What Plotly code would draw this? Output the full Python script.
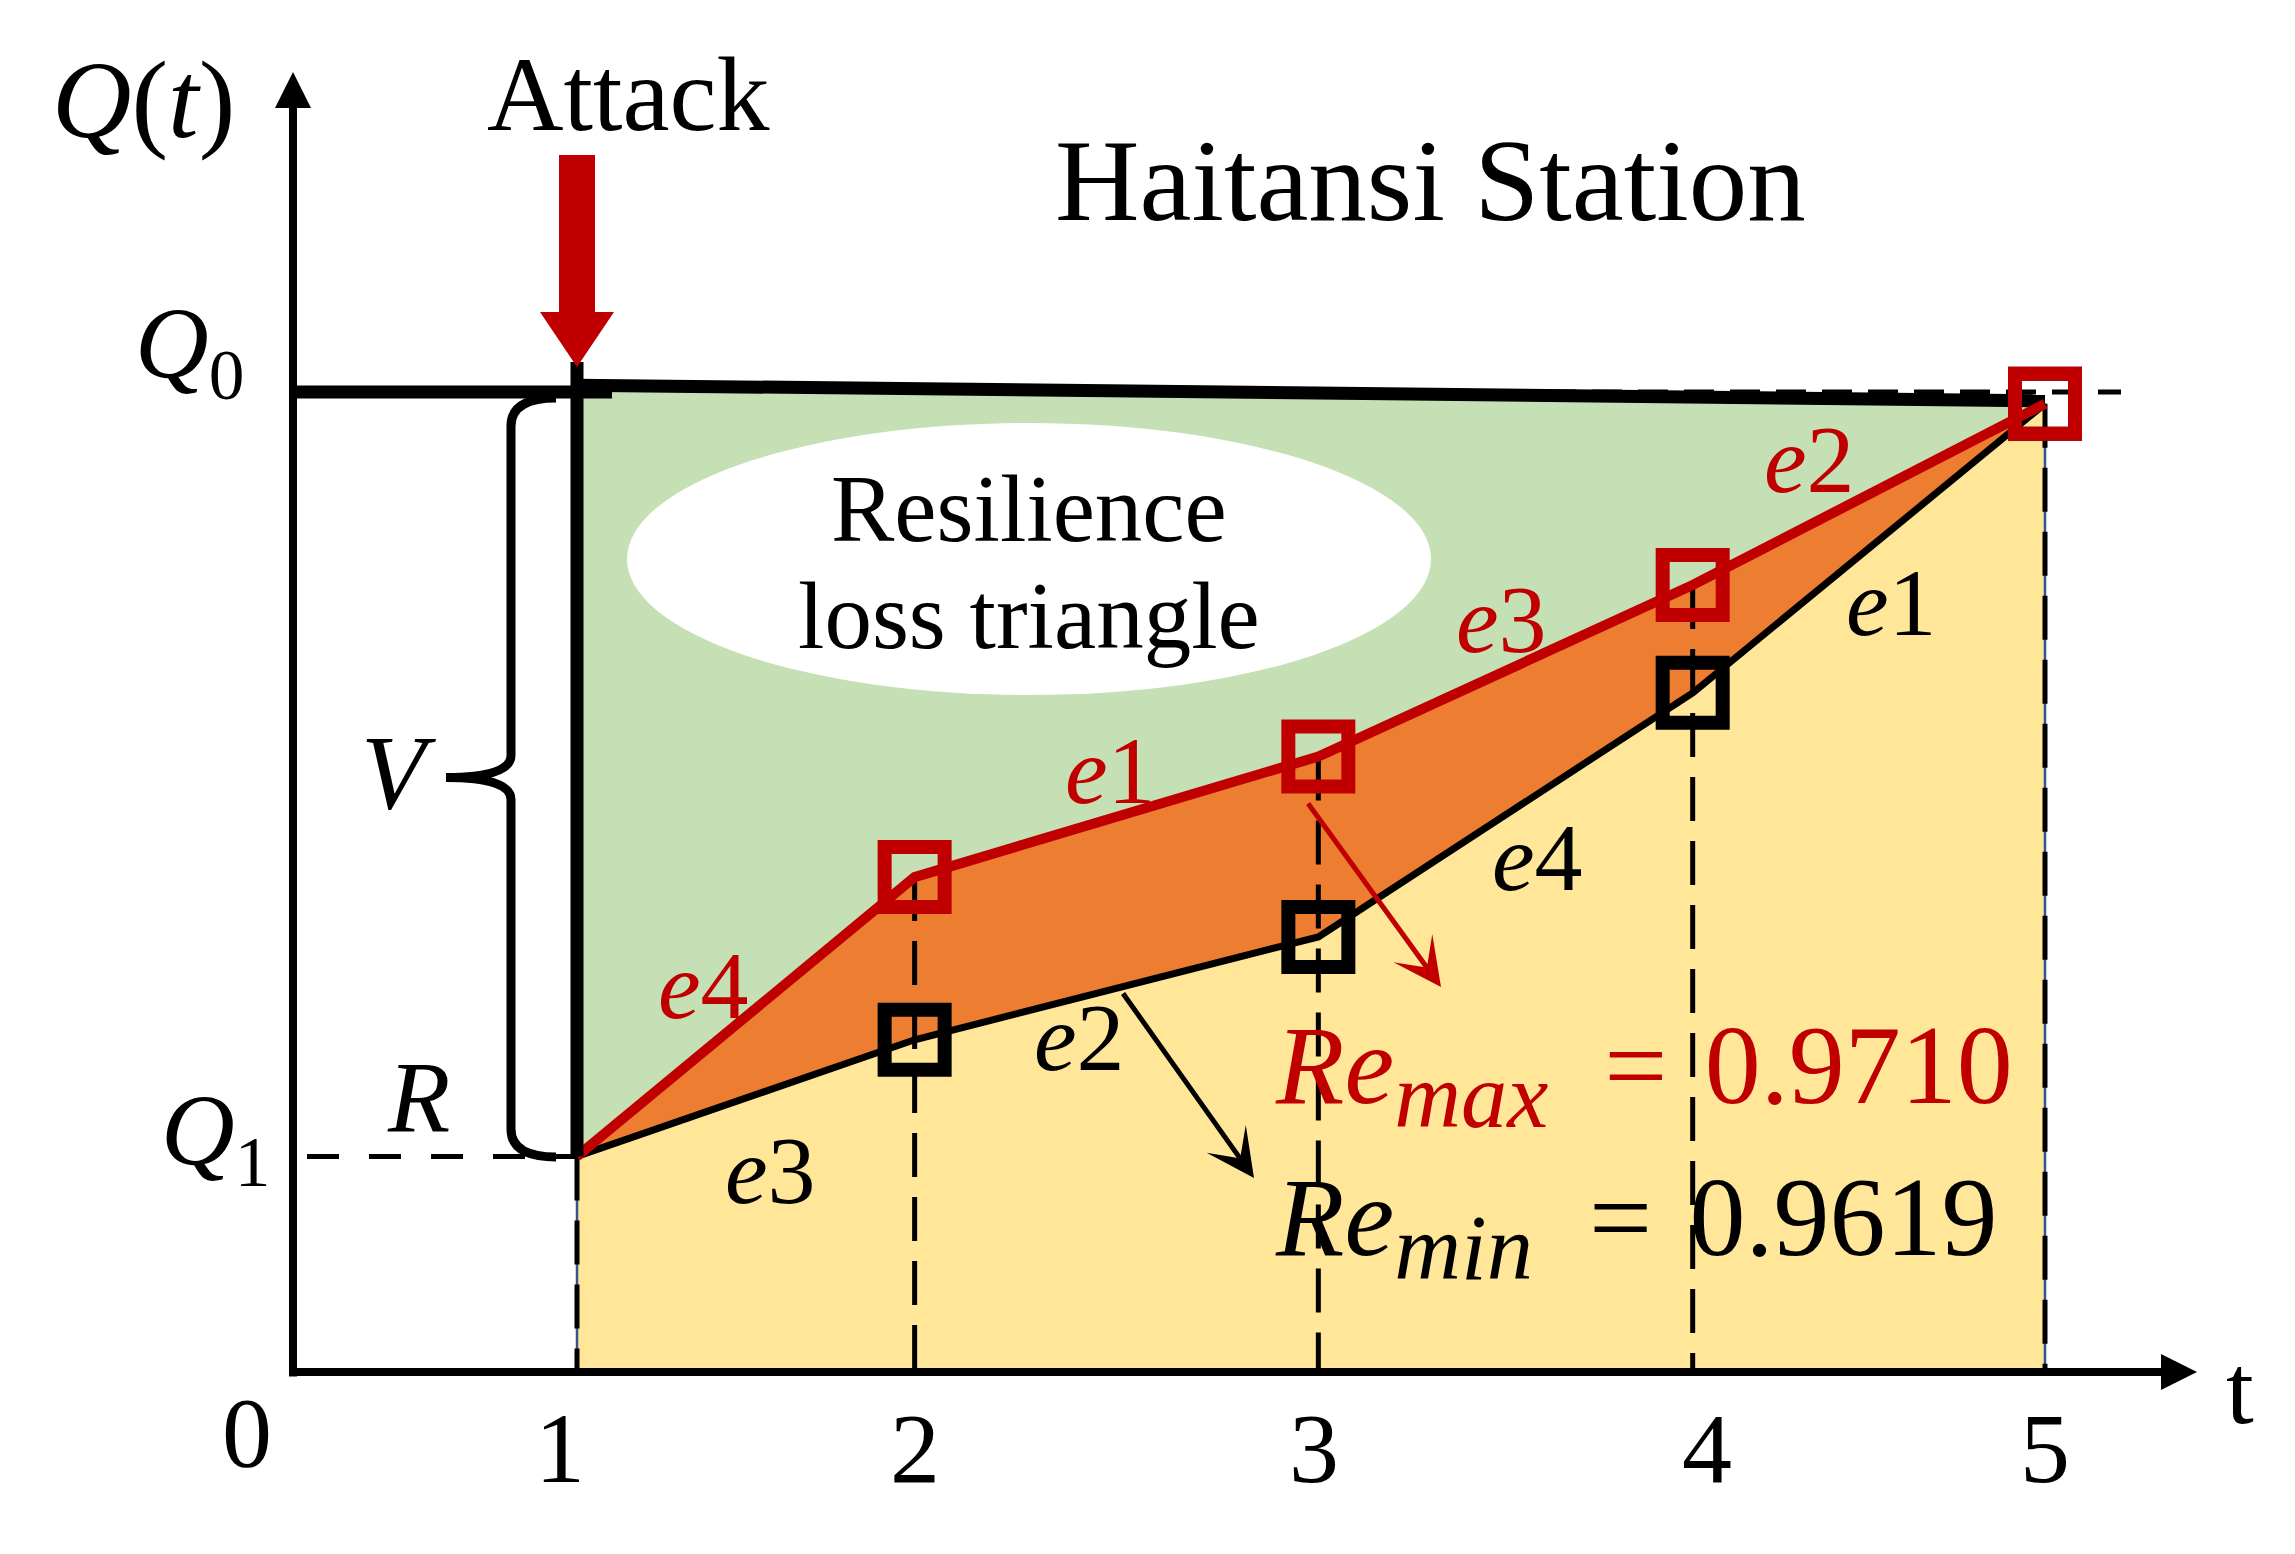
import plotly.graph_objects as go

W, H = 2295, 1554

# ---------------- data ----------------
t_pos = [1, 1.92, 3.02, 4.04, 5]            # recovery stages (x positions)
tick_text = ["1", "2", "3", "4", "5"]
q_max = [0.22, 0.505, 0.628, 0.803, 0.988]   # Re_max recovery path (red)
q_min = [0.22, 0.339, 0.444, 0.693, 0.988]   # Re_min recovery path (black)
Q0 = 1.0
Q1 = 0.22
top_line_q = [1.007, 0.991]                  # drawn performance line after attack
labels_max = ["4", "1", "3", "2"]            # e-index per red segment
labels_min = ["3", "2", "4", "1"]            # e-index per black segment
Re_max = 0.9710
Re_min = 0.9619

# ---------------- pixel calibration of the axes ----------------
PX_T1, PX_PER_T = 577.0, 367.0
PX_Q0, PX_AXIS = 392.0, 1372.0
PX_PER_Q = PX_AXIS - PX_Q0
x_range = [1 - PX_T1 / PX_PER_T, 1 + (W - PX_T1) / PX_PER_T]
y_range = [-(H - PX_AXIS) / PX_PER_Q, PX_AXIS / PX_PER_Q]


def tx(px):
    return 1 + (px - PX_T1) / PX_PER_T


def qy(py):
    return (PX_AXIS - py) / PX_PER_Q


RED = "#C00000"
ORANGE = "#ED7D31"
GREEN = "#C5E0B4"
YELLOW = "#FFE699"
BLUE = "#2F5597"
FONT = "Liberation Serif"

fig = go.Figure()

t_end = t_pos[-1]
t_start = t_pos[0]

# dashed Q0 reference line (visible where the drawn line drops below it)
fig.add_trace(go.Scatter(x=[tx(1500), tx(2121)], y=[Q0, Q0], mode="lines",
                         line=dict(color="black", width=5, dash="30px,16px")))

# yellow area under the min path
fig.add_trace(go.Scatter(
    x=[t_start] + t_pos + [t_end, t_start],
    y=[0] + q_min + [0, 0],
    mode="lines", fill="toself", fillcolor=YELLOW,
    line=dict(color=BLUE, width=2.5)))

# orange band between the two paths
fig.add_trace(go.Scatter(
    x=t_pos + t_pos[::-1], y=q_max + q_min[::-1],
    mode="lines", fill="toself", fillcolor=ORANGE, line=dict(width=0)))

# green resilience loss triangle
fig.add_trace(go.Scatter(
    x=[t_start, t_end] + t_pos[::-1], y=top_line_q + q_max[::-1],
    mode="lines", fill="toself", fillcolor=GREEN, line=dict(width=0)))

# dashed verticals
DASH_V = "44px,20px"
for t, q in zip(t_pos[1:-1], q_max[1:-1]):
    fig.add_trace(go.Scatter(x=[t, t], y=[q, 0], mode="lines",
                             line=dict(color="black", width=5, dash=DASH_V)))
fig.add_trace(go.Scatter(x=[t_start, t_start], y=[Q1, 0], mode="lines",
                         line=dict(color="black", width=5, dash=DASH_V)))
fig.add_trace(go.Scatter(x=[t_end, t_end], y=[q_max[-1], 0], mode="lines",
                         line=dict(color="black", width=5, dash=DASH_V)))

# top performance line
fig.add_trace(go.Scatter(x=[t_start, t_end], y=top_line_q, mode="lines",
                         line=dict(color="black", width=13)))
# min path (black) and max path (red)
fig.add_trace(go.Scatter(x=t_pos, y=q_min, mode="lines",
                         line=dict(color="black", width=7)))
fig.add_trace(go.Scatter(x=t_pos, y=q_max, mode="lines",
                         line=dict(color=RED, width=10)))

# attack drop line
fig.add_trace(go.Scatter(x=[t_start, t_start], y=[Q1, qy(362)], mode="lines",
                         line=dict(color="black", width=13)))
# Q0 level before attack
fig.add_trace(go.Scatter(x=[tx(290), tx(612)], y=[Q0, Q0], mode="lines",
                         line=dict(color="black", width=13)))
# Q1 dashed level
fig.add_trace(go.Scatter(x=[tx(307), t_start], y=[Q1, Q1], mode="lines",
                         line=dict(color="black", width=5, dash="32px,30px")))

# square markers
fig.add_trace(go.Scatter(x=t_pos[1:], y=q_min[1:], mode="markers",
                         marker=dict(symbol="square-open", size=60, color="black",
                                     line=dict(color="black", width=14))))
fig.add_trace(go.Scatter(x=t_pos[1:], y=q_max[1:], mode="markers",
                         marker=dict(symbol="square-open", size=60, color=RED,
                                     line=dict(color=RED, width=14))))

shapes = []
# white ellipse
cx, cy, rx, ry = 1029, 559, 402, 136
shapes.append(dict(type="circle", xref="x", yref="y",
                   x0=tx(cx - rx), x1=tx(cx + rx), y0=qy(cy + ry), y1=qy(cy - ry),
                   fillcolor="white", line=dict(width=0), layer="above"))

# big red attack arrow
hs, hh = 18 / PX_PER_T, 37 / PX_PER_T
arrow_path = (f"M {t_start-hs},{qy(155)} L {t_start+hs},{qy(155)} L {t_start+hs},{qy(312)} "
              f"L {t_start+hh},{qy(312)} L {t_start},{qy(367)} L {t_start-hh},{qy(312)} "
              f"L {t_start-hs},{qy(312)} Z")
shapes.append(dict(type="path", xref="x", yref="y", path=arrow_path,
                   fillcolor=RED, line=dict(width=0), layer="above"))

# curly brace V
bx, tipx, ex = tx(511), tx(446), tx(556)
ytop, ybot = 398, 1157
ymid = (ytop + ybot) / 2
brace = (f"M {ex},{qy(ytop)} Q {bx},{qy(ytop)} {bx},{qy(ytop+28)} "
         f"L {bx},{qy(ymid-22)} Q {bx},{qy(ymid)} {tipx},{qy(ymid)} "
         f"Q {bx},{qy(ymid)} {bx},{qy(ymid+22)} "
         f"L {bx},{qy(ybot-28)} Q {bx},{qy(ybot)} {ex},{qy(ybot)}")
shapes.append(dict(type="path", xref="x", yref="y", path=brace,
                   line=dict(color="black", width=9), layer="above"))

ann = []


def text(s, px, py, size, color="black", **kw):
    d = dict(text=s, x=tx(px), y=qy(py), xref="x", yref="y", showarrow=False,
             font=dict(family=FONT, size=size, color=color))
    d.update(kw)
    ann.append(d)


# axes arrows
ax_t = tx(293)
ann.append(dict(text="", x=ax_t, y=qy(72), ax=ax_t, ay=qy(1378), xref="x", yref="y",
                axref="x", ayref="y", showarrow=True, arrowhead=2, arrowsize=0.9,
                arrowwidth=8, arrowcolor="black", standoff=0))
ann.append(dict(text="", x=tx(2197), y=0, ax=tx(288), ay=0, xref="x", yref="y",
                axref="x", ayref="y", showarrow=True, arrowhead=2, arrowsize=0.9,
                arrowwidth=8, arrowcolor="black", standoff=0))

# pointer arrows
ann.append(dict(text="", x=tx(1441), y=qy(987), ax=tx(1307), ay=qy(802), xref="x", yref="y",
                axref="x", ayref="y", showarrow=True, arrowhead=3, arrowsize=1.6,
                arrowwidth=5, arrowcolor=RED, standoff=0))
ann.append(dict(text="", x=tx(1254), y=qy(1178), ax=tx(1122), ay=qy(992), xref="x", yref="y",
                axref="x", ayref="y", showarrow=True, arrowhead=3, arrowsize=1.6,
                arrowwidth=5, arrowcolor="black", standoff=0))

# titles and labels
text("Attack", 628, 94, 106)
text("Haitansi Station", 1430, 180, 117)
text("Resilience", 1029, 509, 95)
text("loss triangle", 1029, 616, 95)
text("<i>Q</i>(<i>t</i>)", 143, 100, 110)
text("<i>Q</i><sub>0</sub>", 189, 350, 102)
text("<i>Q</i><sub>1</sub>", 215, 1137, 102)
text("<i>V</i>", 398, 772, 106)
text("<i>R</i>", 418, 1097, 102)
text("0", 247, 1432, 100)
text("t", 2240, 1389, 100)
tick_shift = [-17, 0, -4, 14, 0]
for t, lab, sh in zip(t_pos, tick_text, tick_shift):
    ann.append(dict(text=lab, x=t, y=qy(1448), xref="x", yref="y", showarrow=False,
                    xshift=sh, font=dict(family=FONT, size=100, color="black")))

# segment labels
off_max = [(-42, 31), (-6, 46), (-4, 51), (-59, 35)]
off_min = [(25, -72), (-37, -49), (32, -43), (23, -54)]
for i in range(4):
    tm = (t_pos[i] + t_pos[i + 1]) / 2
    ann.append(dict(text=f"<i>e</i>{labels_max[i]}", x=tm, y=(q_max[i] + q_max[i + 1]) / 2,
                    xref="x", yref="y", showarrow=False, xshift=off_max[i][0],
                    yshift=off_max[i][1], font=dict(family=FONT, size=96, color=RED)))
    ann.append(dict(text=f"<i>e</i>{labels_min[i]}", x=tm, y=(q_min[i] + q_min[i + 1]) / 2,
                    xref="x", yref="y", showarrow=False, xshift=off_min[i][0],
                    yshift=off_min[i][1], font=dict(family=FONT, size=96, color="black")))

nb = "\u00a0"
g1 = nb * 2
g2 = nb + "\u200a"
text(f"<i>Re</i><sub><span style='font-size:118%'><i>max</i></span></sub>{g1}={g2}{Re_max:.4f}",
     1273, 1075, 112, color=RED, xanchor="left")
text(f"<i>Re</i><sub><span style='font-size:118%'><i>min</i></span></sub>{g1}={g2}{Re_min:.4f}",
     1273, 1227, 112, color="black", xanchor="left")

fig.update_layout(
    width=W, height=H, margin=dict(l=0, r=0, t=0, b=0),
    paper_bgcolor="white", plot_bgcolor="white", showlegend=False,
    hovermode=False, shapes=shapes, annotations=ann,
    xaxis=dict(range=x_range, visible=False, fixedrange=True),
    yaxis=dict(range=y_range, visible=False, fixedrange=True),
)

fig.write_html("out.html", config={"displayModeBar": False},
               post_script="document.body.style.margin='0';document.body.style.overflow='hidden';")
